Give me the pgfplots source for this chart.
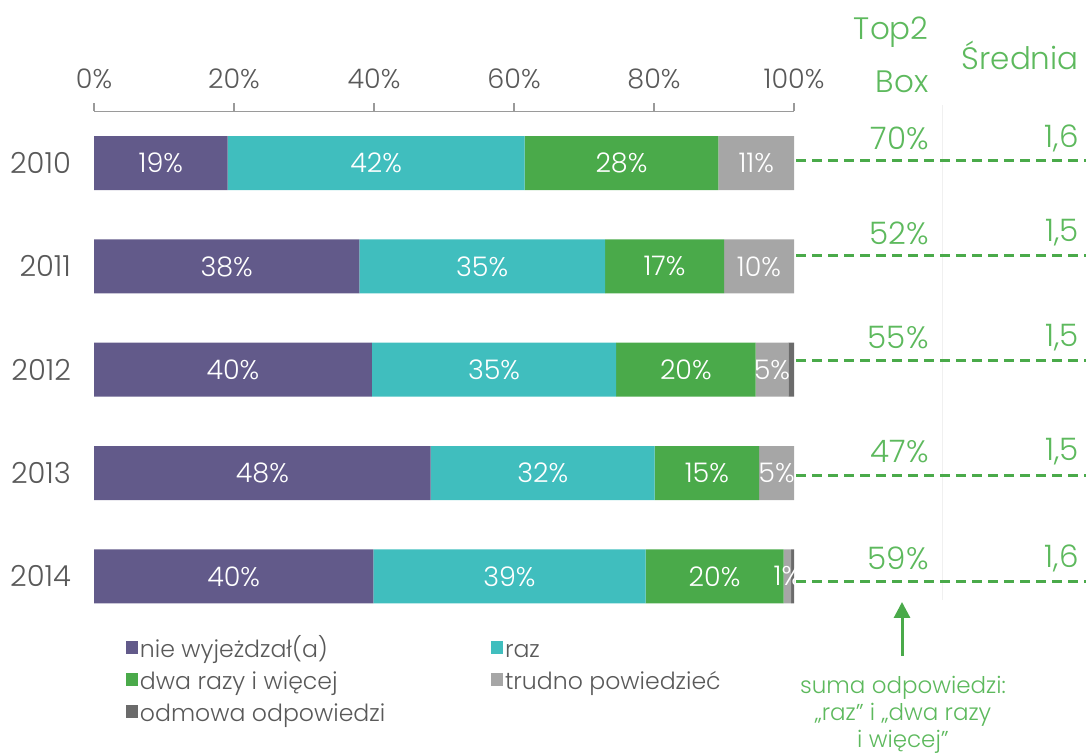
\documentclass[border=0pt]{standalone}
\usepackage{pgfplots}
\pgfplotsset{compat=1.18}
\usepackage{pgfplotstable}
\usetikzlibrary{arrows.meta}
\usepackage{fontspec}
\setmainfont{Poppins}[UprightFont=* Light]
\definecolor{cPurple}{HTML}{625A8A}
\definecolor{cTeal}{HTML}{40BEBE}
\definecolor{cGreen}{HTML}{4AAA4A}
\definecolor{cGray}{HTML}{A6A6A6}
\definecolor{cDark}{HTML}{6B6B6B}
\definecolor{cText}{HTML}{595959}
\definecolor{cGT}{HTML}{5DB95D}
\definecolor{cAxis}{HTML}{9A9A9A}

\pgfplotstableread{
x y l
19.1 4 19
37.9 3 38
39.7 2 40
48.1 1 48
39.9 0 40
}\nie
\pgfplotstableread{
x y l
42.4 4 42
35.1 3 35
34.9 2 35
32.0 1 32
38.9 0 39
}\raz
\pgfplotstableread{
x y l
27.7 4 28
17.0 3 17
19.9 2 20
14.9 1 15
19.7 0 20
}\dwa
\pgfplotstableread{
x y l
10.8 4 11
10.0 3 10
4.7 2 5
5.0 1 5
1.1 0 1
}\trudno
\pgfplotstableread{
x y
0 4
0 3
0.8 2
0 1
0.4 0
}\odmowa

\begin{document}
\begin{tikzpicture}
\path[use as bounding box] (0,0) rectangle (543pt,376.5pt);
\begin{scope}[x=0.5pt,y=-0.5pt,shift={(0,376.5pt)}]
\draw[black!6, line width=0.5pt] (942,105) -- (942,600);
\end{scope}
\begin{axis}[
  at={(47pt,62.5pt)}, anchor=south west,
  scale only axis, width=350pt, height=258.25pt,
  xmin=0, xmax=100, ymin=-0.5, ymax=4.5,
  xbar stacked, bar width=27pt,
  axis x line*=top, axis y line*=left,
  x axis line style={draw=cAxis, line width=0.75pt, -},
  y axis line style={draw=none},
  xtick={0,20,40,60,80,100},
  xticklabel={\pgfmathprintnumber{\tick}\%},
  xtick style={draw=cAxis, line width=0.75pt},
  ytick style={draw=none},
  tick align=outside, major tick length=4pt,
  ytick={0,1,2,3,4}, yticklabels={2014,2013,2012,2011,2010},
  tick label style={font=\fontsize{13.5}{16}\selectfont, text=cText},
  xticklabel style={yshift=3.6pt},
  yticklabel style={xshift=-4pt, font=\fontsize{14.5}{17}\selectfont},
  /pgf/number format/assume math mode=true,
  clip=false,
  legend columns=2,
  legend cell align=left,
  legend style={at={(0.036,-0.010)}, anchor=north west, draw=none, fill=none,
    font=\fontsize{11.8}{14}\selectfont, text=cText,
    nodes={inner sep=1.2pt, text height=9pt, text depth=3pt},
    /tikz/every even column/.style={column sep=51.5pt},
    row sep=1.6pt},
  legend image code/.code={\fill[#1] (0pt,-1.2pt) rectangle (6pt,5.4pt);},
  every node near coord/.append style={text=white, font=\fontsize{13.5}{16}\selectfont},
]
\addplot[fill=cPurple, draw=none, nodes near coords={\pgfplotspointmeta\%}, point meta=explicit symbolic] table[x=x,y=y,meta=l] {\nie};
\addlegendentry{nie wyjeżdzał(a)}
\addplot[fill=cTeal, draw=none, nodes near coords={\pgfplotspointmeta\%}, point meta=explicit symbolic] table[x=x,y=y,meta=l] {\raz};
\addlegendentry{raz}
\addplot[fill=cGreen, draw=none, nodes near coords={\pgfplotspointmeta\%}, point meta=explicit symbolic] table[x=x,y=y,meta=l] {\dwa};
\addlegendentry{dwa razy i więcej}
\addplot[fill=cGray, draw=none, nodes near coords={\pgfplotspointmeta\%}, point meta=explicit symbolic] table[x=x,y=y,meta=l] {\trudno};
\addlegendentry{trudno powiedzieć}
\addplot[fill=cDark, draw=none] table[x=x,y=y] {\odmowa};
\addlegendentry{odmowa odpowiedzi}
\end{axis}
\begin{scope}[x=0.5pt,y=-0.5pt,shift={(0,376.5pt)}]
\begin{scope}[every node/.style={inner sep=0pt, text=cGT, font=\fontsize{15.5}{18}\selectfont}]
\node[anchor=east] at (929,32) {Top2};
\node[anchor=east] at (929,82) {Box};
\node[anchor=east] at (1079,55) {Średnia};
\node[anchor=east] at (929,138) {70\%};
\node[anchor=east] at (1079,138) {1,6};
\node[anchor=east] at (929,233) {52\%};
\node[anchor=east] at (1079,233) {1,5};
\node[anchor=east] at (929,338) {55\%};
\node[anchor=east] at (1079,338) {1,5};
\node[anchor=east] at (929,452) {47\%};
\node[anchor=east] at (1079,452) {1,5};
\node[anchor=east] at (929,558) {59\%};
\node[anchor=east] at (1079,558) {1,6};
\end{scope}
\begin{scope}[cGreen, line width=1.5pt, dash pattern=on 5pt off 3pt]
\draw (796,161) -- (1086,161);
\draw (796,256) -- (1086,256);
\draw (796,361) -- (1086,361);
\draw (796,476) -- (1086,476);
\draw (796,582) -- (1086,582);
\end{scope}
\draw[cGreen, line width=1.5pt, -{Triangle[length=8pt,width=8pt]}] (902,656) -- (902,602);
\node[align=center, text=cGT, inner sep=0pt, font=\fontsize{11.5}{13.5}\selectfont] at (903,715) {suma odpowiedzi:\\„raz” i „dwa razy\\i więcej”};
\end{scope}
\end{tikzpicture}
\end{document}
